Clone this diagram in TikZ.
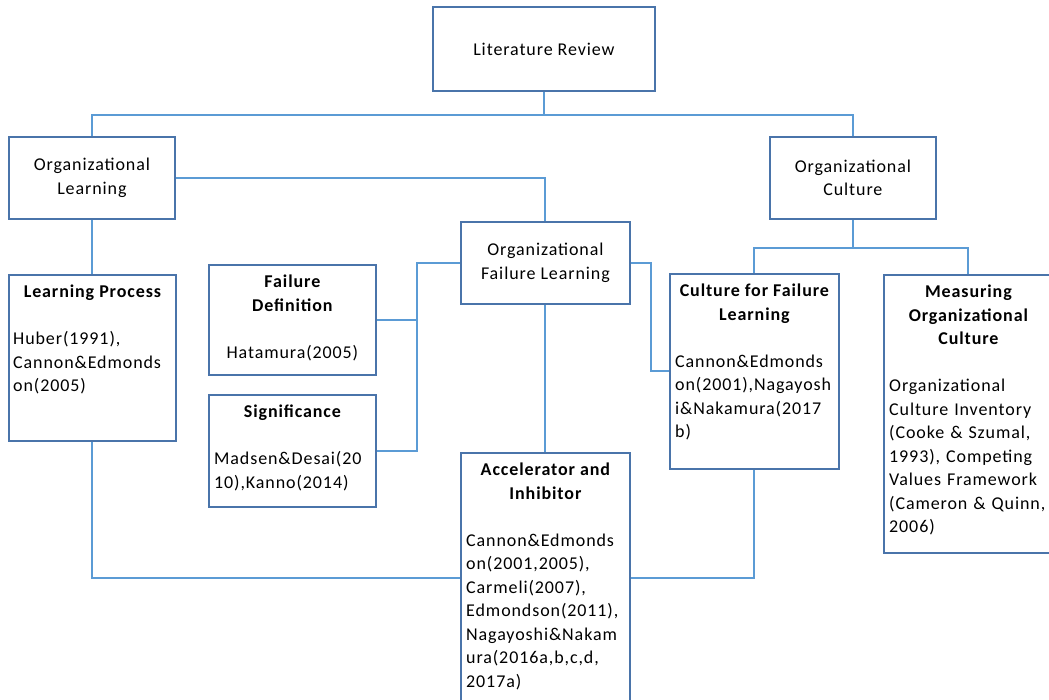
\documentclass[tikz,border=0pt]{standalone}
\usepackage{fontspec}
\setmainfont{Carlito}[LetterSpace=5]
\parindent=0pt
\definecolor{boxc}{RGB}{74,116,170}
\definecolor{linec}{RGB}{91,155,213}
\newcommand\diagfont{\fontsize{18}{23.5}\selectfont}
\tikzset{
  box/.style={draw=boxc, line width=1.8pt, fill=white, inner sep=0pt,
              anchor=north west, align=center, font=\diagfont},
  link/.style={draw=linec, line width=1.9pt},
  head/.style={font=\diagfont\bfseries, align=center, inner sep=0pt, anchor=north, yshift=-7pt},
  body/.style={font=\diagfont, align=left, text width=200pt, inner sep=0pt, anchor=north west},
  cbody/.style={font=\diagfont, align=center, inner sep=0pt, anchor=north},
}
\begin{document}
\begin{tikzpicture}[x=1pt, y=-1pt]
\useasboundingbox (0,0) rectangle (1049,700);

% boxes
\node[box, minimum width=222pt, minimum height=84pt] (lit) at (432,6) {Literature Review};
\node[box, minimum width=166pt, minimum height=82pt] (ol) at (8,136) {Organizational\\Learning};
\node[box, minimum width=166pt, minimum height=82pt] (oc) at (769,136) {Organizational\\Culture};
\node[box, minimum width=169pt, minimum height=82pt] (ofl) at (460,221) {Organizational\\Failure Learning};
\node[box, minimum width=167pt, minimum height=166pt] (lp) at (8,274) {};
\node[box, minimum width=167pt, minimum height=110pt] (fd) at (208,264) {};
\node[box, minimum width=167pt, minimum height=112pt] (sig) at (208,394) {};
\node[box, minimum width=169pt, minimum height=250pt] (acc) at (460,452) {};
\node[box, minimum width=169pt, minimum height=195pt] (cfl) at (669,273) {};
\node[box, minimum width=169pt, minimum height=278pt] (moc) at (883,274) {};

% headings
\node[head] (lpH) at (lp.north) {\strut Learning Process};
\node[head] (fdH) at (fd.north) {\strut Failure\\Definition};
\node[head] (sigH) at (sig.north) {\strut Significance};
\node[head] (accH) at (acc.north) {\strut Accelerator and\\Inhibitor};
\node[head] (cflH) at (cfl.north) {\strut Culture for Failure\\Learning};
\node[head] (mocH) at (moc.north) {\strut Measuring\\Organizational\\Culture};

% references
\node[body] (lpB) at ([xshift=5pt, yshift=-54.05pt]lp.north west)
  {\strut Huber(1991),\\Cannon\&Edmonds\\on(2005)};
\node[cbody] (fdB) at ([yshift=-77.55pt]fd.north) {\strut Hatamura(2005)};
\node[body] (sigB) at ([xshift=6pt, yshift=-54.05pt]sig.north west)
  {\strut Madsen\&Desai(20\\10),Kanno(2014)};
\node[body] (accB) at ([xshift=6pt, yshift=-77.55pt]acc.north west)
  {\strut Cannon\&Edmonds\\on(2001,2005),\\Carmeli(2007),\\Edmondson(2011),\\Nagayoshi\&Nakam\\ura(2016a,b,c,d,\\2017a)};
\node[body] (cflB) at ([xshift=6pt, yshift=-77.55pt]cfl.north west)
  {\strut Cannon\&Edmonds\\on(2001),Nagayosh\\i\&Nakamura(2017\\b)};
\node[body] (mocB) at ([xshift=6pt, yshift=-101.05pt]moc.north west)
  {\strut Organizational\\Culture Inventory\\(Cooke \& Szumal,\\1993), Competing\\Values Framework\\(Cameron \& Quinn,\\2006)};

% connectors
\coordinate (topbus) at ([yshift=-23pt]lit.south);
\coordinate (leftbus) at ([xshift=-43pt]ofl.west);
\coordinate (rightjog) at ([xshift=20pt]ofl.east);
\coordinate (cbus) at ([yshift=-28pt]oc.south);

\draw[link] (lit.south) -- (topbus);
\draw[link] (ol.north) |- (topbus) -| (oc.north);
\draw[link] (ol.east) -| (ofl.north);
\draw[link] (ol.south) -- (ol.south |- lp.north);
\draw[link] (lp.south) |- (acc.west);
\draw[link] (acc.east) -| (cfl.south);
\draw[link] (ofl.south) -- (acc.north);
\draw[link] (ofl.west) -- (leftbus) |- (sig.east);
\draw[link] (fd.east) -- (fd.east -| leftbus);
\draw[link] (ofl.east) -- (rightjog) |- (cfl.west);
\draw[link] (oc.south) -- (cbus);
\draw[link] (cfl.north) |- (cbus) -| (moc.north);
\end{tikzpicture}
\end{document}
